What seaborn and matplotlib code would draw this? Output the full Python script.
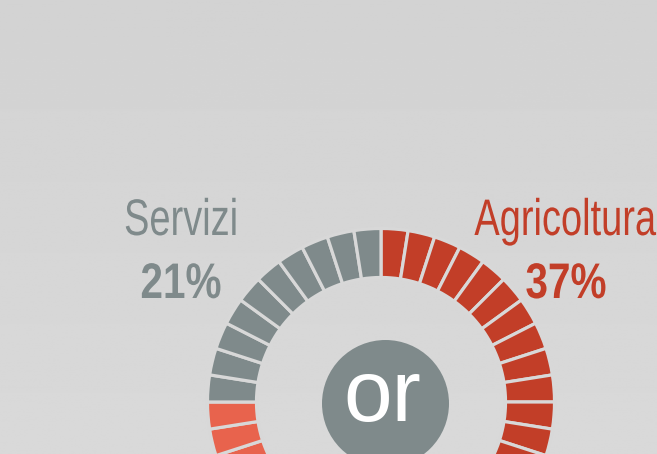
import numpy as np
import matplotlib
matplotlib.use("Agg")
import matplotlib.pyplot as plt
from matplotlib.patches import Circle
from matplotlib.patheffects import AbstractPathEffect
from matplotlib.transforms import Affine2D
import seaborn as sns

# ---- data ----
ring_categories = ["Agricoltura", "Industria", "Servizi"]   # clockwise from top
ring_segments = [15, 15, 10]                                 # of 40 segments
label_names = ["Servizi", "Agricoltura"]
label_values = ["21%", "37%"]
center_text = "or"

# ---- style ----
sns.set_theme(style="white")
plt.rcParams["font.family"] = ["Liberation Sans", "DejaVu Sans"]

GRAY = "#7F8A8B"
RED = "#C23E28"
LIGHT_RED = "#E8634D"
GAP = "#D8D8D8"
palette = dict(zip(ring_categories, [RED, LIGHT_RED, GRAY]))


class Condense(AbstractPathEffect):
    """Narrow the glyphs horizontally around the text anchor (condensed look)."""
    def __init__(self, sx):
        super().__init__()
        self.sx = sx
        self.text = None

    def draw_path(self, renderer, gc, tpath, affine, rgbFace=None):
        x0, _ = self.text.get_transform().transform(self.text.get_unitless_position())
        sq = Affine2D().translate(-x0, 0).scale(self.sx, 1).translate(x0, 0)
        renderer.draw_path(gc, tpath, affine + sq, rgbFace)


def condensed_text(ax, x, y, s, sx, **kw):
    eff = Condense(sx)
    t = ax.text(x, y, s, path_effects=[eff], **kw)
    eff.text = t
    return t


W, H = 657, 454
fig = plt.figure(figsize=(W / 100, H / 100), dpi=100)
ax = fig.add_axes([0, 0, 1, 1])

# background gradient
grad = np.linspace(0.826, 0.851, 256).reshape(-1, 1)
ax.imshow(np.repeat(grad, 2, axis=1), cmap="gray", vmin=0, vmax=1,
          extent=[0, W, 0, H], aspect="auto", zorder=0, origin="upper")

# segmented ring
seg_colors = []
for cat, n in zip(ring_categories, ring_segments):
    seg_colors += [palette[cat]] * n
total = sum(ring_segments)
cx, cy = 381, H - 402
ax.pie([1] * total, colors=seg_colors, startangle=90, counterclock=False,
       center=(cx, cy), radius=173.5,
       wedgeprops=dict(width=49, edgecolor=GAP, linewidth=2.3))
for w in ax.patches:
    w.set_zorder(2)

# centre disc
ax.add_patch(Circle((385.5, H - 403.5), 63.5, color=GRAY, zorder=3, lw=0))
ax.text(382, H - 398, center_text, color="white", fontsize=63,
        ha="center", va="center", zorder=4)

# labels
condensed_text(ax, 181, H - 235, label_names[0], 0.74, color=GRAY, fontsize=37,
               ha="center", va="baseline")
condensed_text(ax, 181, H - 298, label_values[0], 0.81, color=GRAY, fontsize=36,
               ha="center", va="baseline", fontweight="bold")
condensed_text(ax, 656, H - 235, label_names[1], 0.74, color=RED, fontsize=37,
               ha="right", va="baseline")
condensed_text(ax, 566, H - 298, label_values[1], 0.81, color=RED, fontsize=36,
               ha="center", va="baseline", fontweight="bold")

ax.set_xlim(0, W)
ax.set_ylim(0, H)
ax.set_aspect("auto")
ax.axis("off")
fig.savefig("out.png", dpi=100)
